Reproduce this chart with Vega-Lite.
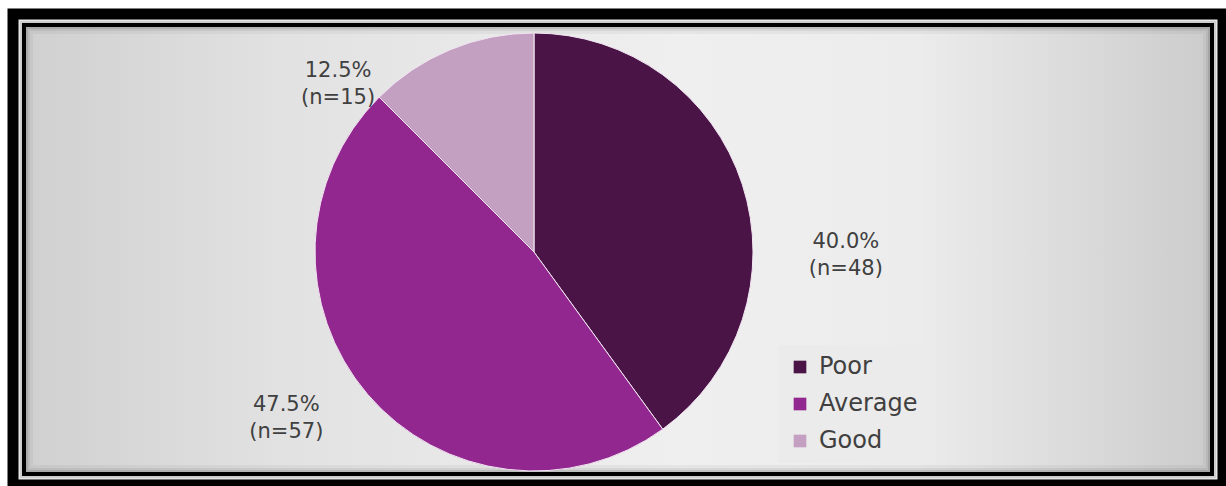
{
  "$schema": "https://vega.github.io/schema/vega-lite/v6.json",
  "width": 1188,
  "height": 449,
  "autosize": {"type": "none"},
  "padding": {"left": 24, "top": 25, "right": 14, "bottom": 12},
  "background": "white",
  "config": {"view": {"stroke": null}},
  "data": {
    "values": [
      {"rating": "Poor", "n": 48, "idx": 1, "label": "40.0%\n(n=48)"},
      {"rating": "Average", "n": 57, "idx": 2, "label": "47.5%\n(n=57)"},
      {"rating": "Good", "n": 15, "idx": 3, "label": "12.5%\n(n=15)"}
    ]
  },
  "layer": [
    {
      "data": {"values": [{}]},
      "mark": {"type": "rect", "fill": "white", "fillOpacity": 0, "stroke": "black", "strokeWidth": 33, "clip": false},
      "encoding": {}
    },
    {
      "data": {"values": [{}]},
      "mark": {"type": "rect", "fill": "white", "fillOpacity": 0, "stroke": "white", "strokeWidth": 11, "clip": false},
      "encoding": {}
    },
    {
      "data": {"values": [{}]},
      "mark": {
        "type": "rect",
        "fill": {
          "gradient": "linear",
          "x1": 0, "y1": 0, "x2": 1, "y2": 0,
          "stops": [
            {"offset": 0, "color": "#d0d0d0"},
            {"offset": 0.22, "color": "#e2e2e2"},
            {"offset": 0.55, "color": "#efefef"},
            {"offset": 0.75, "color": "#ececec"},
            {"offset": 1, "color": "#cccccc"}
          ]
        },
        "strokeWidth": 0
      },
      "encoding": {}
    },
    {
      "data": {"values": [{}]},
      "mark": {"type": "rect", "fillOpacity": 0, "fill": "white", "stroke": "black", "strokeOpacity": 0.04, "strokeWidth": 18},
      "encoding": {}
    },
    {
      "data": {"values": [{}]},
      "mark": {"type": "rect", "fillOpacity": 0, "fill": "white", "stroke": "black", "strokeOpacity": 0.06, "strokeWidth": 12},
      "encoding": {}
    },
    {
      "data": {"values": [{}]},
      "mark": {"type": "rect", "fillOpacity": 0, "fill": "white", "stroke": "black", "strokeOpacity": 0.1, "strokeWidth": 8},
      "encoding": {}
    },
    {
      "data": {"values": [{}]},
      "mark": {"type": "rect", "fillOpacity": 0, "fill": "white", "stroke": "black", "strokeWidth": 4},
      "encoding": {}
    },
    {
      "mark": {"type": "arc", "x": 510, "y": 227, "outerRadius": 219, "stroke": "#f3e6f3", "strokeWidth": 1},
      "encoding": {
        "theta": {"field": "n", "type": "quantitative", "stack": true},
        "order": {"field": "idx", "type": "quantitative"},
        "color": {
          "field": "rating",
          "type": "nominal",
          "scale": {"domain": ["Poor", "Average", "Good"], "range": ["#4a1446", "#92278f", "#c39fc2"]},
          "legend": {
            "title": null,
            "orient": "none",
            "legendX": 754,
            "legendY": 320,
            "fillColor": "#ebebeb",
            "padding": 10,
            "symbolType": "square",
            "symbolSize": 160,
            "symbolStrokeWidth": 0,
            "labelFont": "DejaVu Sans",
            "labelFontSize": 24,
            "labelColor": "#404040",
            "labelOffset": 7,
            "rowPadding": 13
          }
        }
      }
    },
    {
      "transform": [{"filter": "datum.rating === 'Poor'"}],
      "mark": {"type": "text", "x": 510, "y": 227, "theta": 1.5387, "radius": 312, "font": "DejaVu Sans", "fontSize": 21, "color": "#404040", "align": "center", "baseline": "middle", "lineBreak": "\n", "lineHeight": 27.5},
      "encoding": {"text": {"field": "label", "type": "nominal"}}
    },
    {
      "transform": [{"filter": "datum.rating === 'Average'"}],
      "mark": {"type": "text", "x": 510, "y": 227, "theta": 4.1597, "radius": 291, "font": "DejaVu Sans", "fontSize": 21, "color": "#404040", "align": "center", "baseline": "middle", "lineBreak": "\n", "lineHeight": 27.5},
      "encoding": {"text": {"field": "label", "type": "nominal"}}
    },
    {
      "transform": [{"filter": "datum.rating === 'Good'"}],
      "mark": {"type": "text", "x": 510, "y": 227, "theta": 5.4594, "radius": 267, "font": "DejaVu Sans", "fontSize": 21, "color": "#404040", "align": "center", "baseline": "middle", "lineBreak": "\n", "lineHeight": 27.5},
      "encoding": {"text": {"field": "label", "type": "nominal"}}
    }
  ]
}
